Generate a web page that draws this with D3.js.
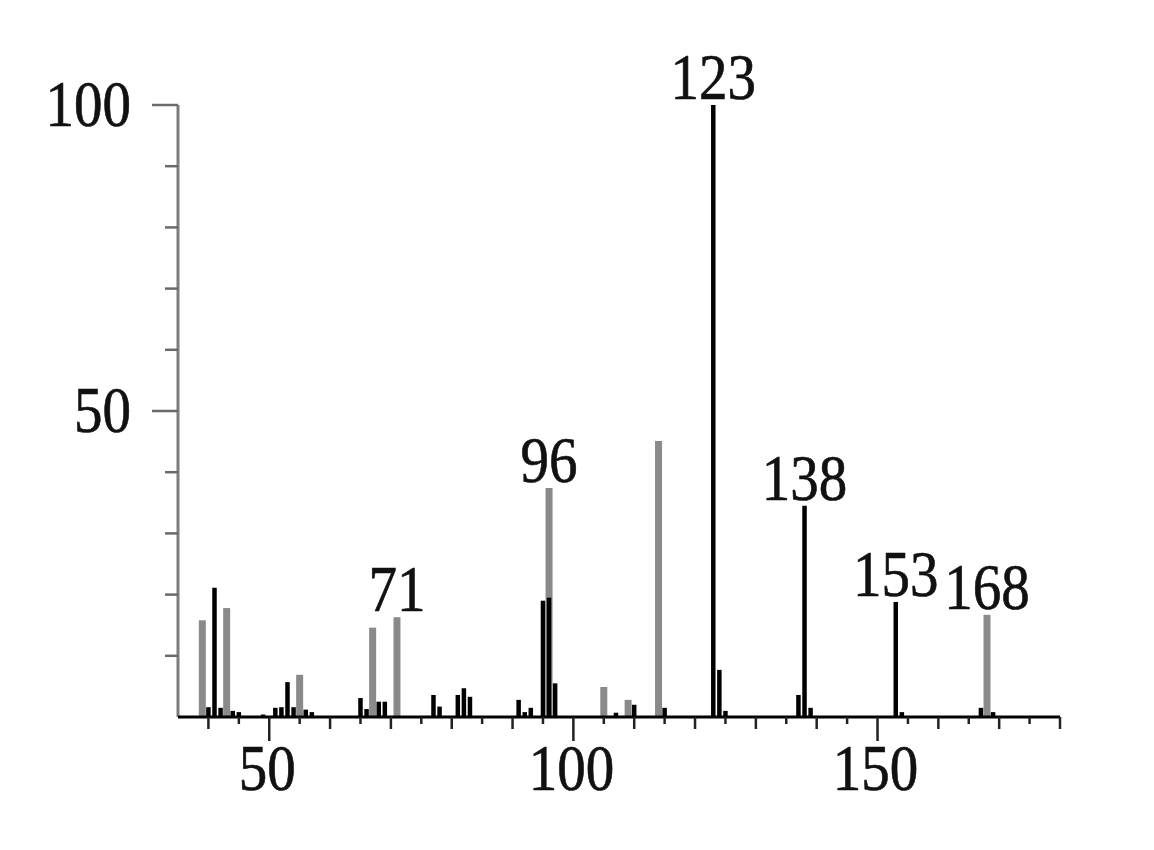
<!DOCTYPE html>
<html>
<head>
<meta charset="utf-8">
<script src="https://cdn.jsdelivr.net/npm/d3@7/dist/d3.min.js"></script>
<style>
  body { margin: 0; background: white; }
  text { font-family: "Liberation Serif", "Times New Roman", serif; fill: #111; stroke: #111; stroke-width: 0.6px; }
</style>
</head>
<body>
<script>
// gray peaks (m/z and relative abundance)
const grayMz = [39, 43, 55, 67, 71, 96, 105, 109, 114, 168]
const grayVal = [15.8, 17.8, 6.9, 14.6, 16.3, 37.4, 4.9, 2.8, 45.1, 16.7]

// black peaks
const blackMz = [40, 41, 42, 44, 45, 49, 51, 52, 53, 54, 56, 57,
  65, 66, 68, 69, 77, 78, 81, 82, 83, 91, 92, 93, 95, 96, 97,
  107, 110, 115, 123, 124, 125, 137, 138, 139, 153, 154, 167, 169]
const blackVal = [1.6, 21.1, 1.5, 1.0, 0.8, 0.4, 1.5, 1.6, 5.7, 1.6, 1.2, 0.8,
  3.1, 1.3, 2.5, 2.5, 3.6, 1.7, 3.6, 4.7, 3.3, 2.8, 0.8, 1.5, 19.0, 19.5, 5.5,
  0.7, 2.0, 1.5, 100, 7.7, 1.0, 3.6, 34.5, 1.5, 18.8, 0.8, 1.5, 0.8]

// peaks with a number above them
const labelMz = [71, 96, 123, 138, 153, 168]

// axis ticks
const xTickLabels = [50, 100, 150]
const yTickLabels = [50, 100]

const width = 1154,
  height = 850,
  stretch = 1.14,
  fontSize = 57

const svg = d3.select("body")
  .append("svg")
  .attr("width", width)
  .attr("height", height)

svg.append("rect")
  .attr("width", "100%")
  .attr("height", "100%")
  .attr("fill", "white")

// scales
const xSc = d3.scaleLinear().domain([35, 180]).range([178, 1060])
const ySc = d3.scaleLinear().domain([0, 100]).range([717, 105])

// tall narrow digits like the scan
const addText = (g, txt, x, y, anchor) => {
  g.append("text")
    .text(txt)
    .attr("transform", `translate(${x},${y}) scale(1,${stretch})`)
    .attr("text-anchor", anchor)
    .style("font-size", fontSize + "px")
}

// gray bars
svg.append("g")
  .selectAll("line")
  .data(grayMz)
  .join("line")
  .attr("x1", (d) => xSc(d))
  .attr("x2", (d) => xSc(d))
  .attr("y1", ySc(0))
  .attr("y2", (d, i) => ySc(grayVal[i]))
  .style("stroke", "#8a8a8a")
  .style("stroke-width", 7)

// black bars
svg.append("g")
  .selectAll("line")
  .data(blackMz)
  .join("line")
  .attr("x1", (d) => xSc(d))
  .attr("x2", (d) => xSc(d))
  .attr("y1", ySc(0))
  .attr("y2", (d, i) => ySc(blackVal[i]))
  .style("stroke", "#000")
  .style("stroke-width", 4.5)

// y axis
const yAxis = svg.append("g")
  .attr("transform", `translate(${xSc(35)},0)`)
yAxis.append("line")
  .attr("y1", ySc(0))
  .attr("y2", ySc(100))
  .style("stroke", "#7d7d7d")
  .style("stroke-width", 3)
yAxis.selectAll(".ytick")
  .data(d3.range(10, 101, 10))
  .join("line")
  .attr("class", "ytick")
  .attr("x1", (d) => d % 50 === 0 ? -26 : -13)
  .attr("x2", 0)
  .attr("y1", (d) => ySc(d))
  .attr("y2", (d) => ySc(d))
  .style("stroke", "#6a6a6a")
  .style("stroke-width", 2.5)
yTickLabels.forEach((d) => {
  addText(svg, d, 131, ySc(d) + 21, "end")
})

// x axis
const xAxis = svg.append("g")
  .attr("transform", `translate(0,${ySc(0)})`)
xAxis.append("line")
  .attr("x1", xSc(35))
  .attr("x2", xSc(180))
  .style("stroke", "#000")
  .style("stroke-width", 3)
xAxis.selectAll(".xtick")
  .data(d3.range(40, 181, 5))
  .join("line")
  .attr("class", "xtick")
  .attr("x1", (d) => xSc(d))
  .attr("x2", (d) => xSc(d))
  .attr("y1", 0)
  .attr("y2", (d) => d % 50 === 0 ? 24 : (d % 10 === 0 ? 12 : 7))
  .style("stroke", "#222")
  .style("stroke-width", 2.5)
xTickLabels.forEach((d) => {
  addText(svg, d, xSc(d) - 2, 790, "middle")
})

// peak labels over the tallest bar at that m/z
labelMz.forEach((m) => {
  const gi = grayMz.indexOf(m),
    bi = blackMz.indexOf(m)
  const top = Math.max(
    gi < 0 ? 0 : grayVal[gi],
    bi < 0 ? 0 : blackVal[bi]
  )
  addText(svg, m, xSc(m), ySc(top) - 6, "middle")
})
</script>
</body>
</html>
